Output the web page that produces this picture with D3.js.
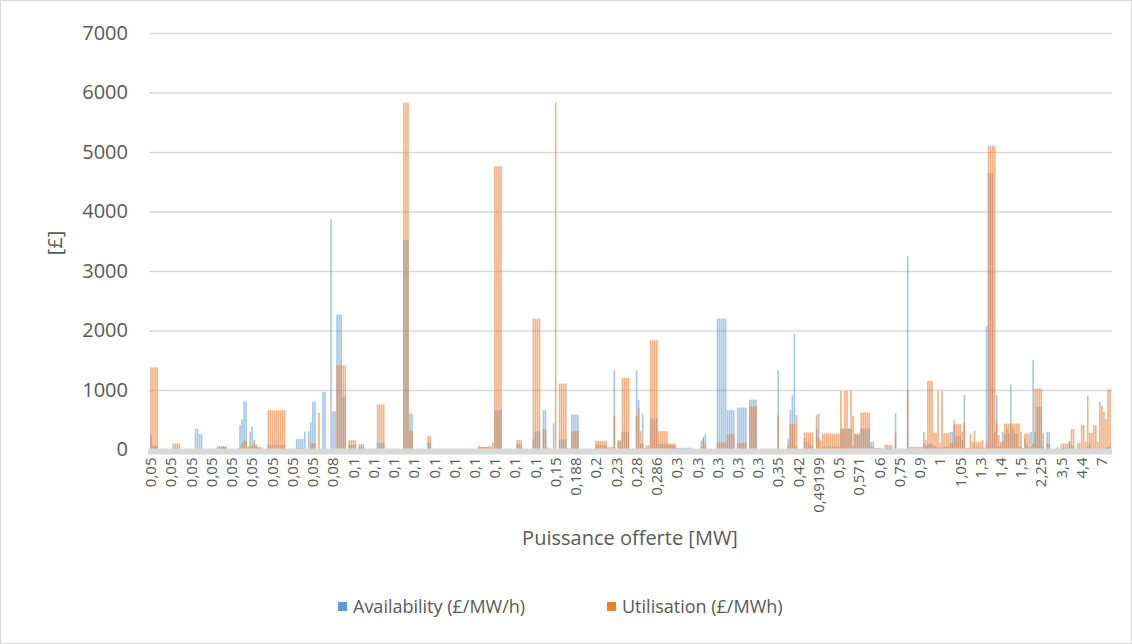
<!DOCTYPE html>
<html>
<head>
<meta charset="utf-8">
<script src="https://cdn.jsdelivr.net/npm/d3@7"></script>
<style>
  html, body { margin: 0; padding: 0; background: #ffffff; }
  svg { display: block; font-family: "Open Sans", "Noto Sans", sans-serif; }
</style>
</head>
<body>
<svg id="chart" width="1132" height="644"></svg>
<script>
// ---- DATA ----
// one label every 10th category (Puissance offerte [MW])
const tickLabels = [
  "0,05","0,05","0,05","0,05","0,05","0,05","0,05","0,05","0,05","0,08",
  "0,1","0,1","0,1","0,1","0,1","0,1","0,1","0,1","0,1","0,1",
  "0,15","0,188","0,2","0,23","0,28","0,286","0,3","0,3","0,3","0,3","0,3",
  "0,35","0,42","0,49199","0,5","0,571","0,6","0,75","0,9","1","1,05",
  "1,3","1,4","1,5","2,25","3,5","4,4","7"
];
const yTicks = [0, 1000, 2000, 3000, 4000, 5000, 6000, 7000];
const seriesNames = ["Availability (£/MW/h)", "Utilisation (£/MWh)"];

// Availability (£/MW/h), one row per label group of 10 categories
const availability = [
  240,60,60,60,0,0,0,0,0,0,
  0,30,30,30,30,0,0,0,0,0,
  0,0,350,350,260,260,0,0,0,0,
  0,0,0,40,40,40,40,40,0,0,
  0,0,0,0,410,510,810,810,50,300,
  380,100,80,30,20,10,0,0,80,80,
  80,80,80,80,80,80,80,0,0,0,
  0,0,175,175,175,175,300,0,308,460,
  800,800,0,0,0,970,970,0,0,3870,
  644,644,2270,2270,2270,885,885,0,80,80,
  80,80,0,45,45,45,0,0,0,0,
  0,0,112,112,112,112,0,0,0,0,
  0,0,0,0,0,3520,3520,3520,605,605,
  0,0,0,0,0,0,0,112,112,0,
  0,0,0,0,0,0,0,0,0,0,
  0,0,0,0,0,0,0,0,0,0,
  0,0,70,40,40,40,40,60,60,0,
  661,661,661,661,0,0,0,0,0,0,
  0,90,90,90,0,0,0,0,0,174,
  308,308,308,0,661,661,0,0,0,437,
  0,0,168,168,168,168,0,0,588,588,
  588,588,0,0,0,0,0,0,0,0,
  73,73,73,73,73,73,0,0,0,1333,
  0,130,130,297,297,297,297,0,0,0,
  1333,830,100,605,20,20,20,521,521,521,
  521,90,90,90,90,90,73,73,73,73,
  30,30,30,30,30,30,30,30,0,0,
  0,0,150,213,270,0,0,0,0,0,
  2200,2200,2200,2200,2200,661,661,661,661,0,
  706,706,706,706,706,0,840,840,840,840,
  0,0,0,0,0,0,0,0,0,0,
  1333,0,0,0,0,185,660,913,1940,50,
  0,0,0,185,140,120,80,60,0,350,
  605,30,50,50,50,80,50,50,50,50,
  50,350,350,350,350,350,350,50,250,250,
  250,353,353,353,353,353,130,130,20,20,
  20,20,0,30,30,30,30,0,605,0,
  0,0,0,0,3250,10,10,10,10,10,
  10,10,100,60,100,100,100,60,60,30,
  30,30,50,50,50,297,297,493,224,224,
  224,157,913,20,20,30,30,100,30,30,
  30,30,0,2072,4650,4650,4650,300,913,50,
  80,297,270,350,270,1092,350,270,270,50,
  50,20,185,80,30,297,1500,300,717,717,
  717,50,0,297,297,0,0,0,30,0,
  30,30,30,30,140,60,60,0,0,0,
  0,0,0,50,100,0,0,0,0,0,
  0,0,30,40,60
];

// Utilisation (£/MWh)
const utilisation = [
  1380,1380,1380,1380,0,0,0,0,0,0,
  0,100,100,100,100,0,0,0,0,0,
  0,0,0,0,0,0,0,0,0,0,
  0,0,0,55,55,55,55,55,0,0,
  0,0,0,0,40,110,150,150,20,60,
  60,160,70,45,40,30,0,0,660,660,
  660,660,660,660,660,660,660,0,0,0,
  0,0,20,20,20,20,0,0,0,106,
  106,106,0,616,0,0,0,0,0,0,
  0,0,1417,1417,1417,1417,1417,0,157,157,
  157,157,0,90,90,90,0,0,0,0,
  0,0,756,756,756,756,0,0,0,0,
  0,0,0,0,0,5830,5830,5830,308,308,
  0,0,0,0,0,0,0,224,224,0,
  0,0,0,0,0,0,0,0,0,0,
  0,0,0,0,0,0,0,0,0,0,
  0,0,45,45,45,45,45,30,30,120,
  4760,4760,4760,4760,0,0,0,0,0,0,
  0,157,157,157,0,0,0,0,0,2200,
  2200,2200,2200,0,340,340,30,30,0,0,
  5830,0,1109,1109,1109,1109,20,20,308,308,
  308,308,0,0,0,0,0,0,0,0,
  146,146,146,146,146,146,40,40,40,566,
  0,157,157,1204,1204,1204,1204,0,20,0,
  566,700,308,100,20,73,73,1837,1837,1837,
  1837,308,308,308,308,308,100,100,100,100,
  10,10,10,10,10,10,10,10,0,0,
  0,0,50,185,100,0,0,0,0,0,
  118,118,118,118,118,258,258,258,258,0,
  112,112,112,112,112,0,728,728,728,728,
  0,0,0,0,0,0,0,0,0,0,
  577,0,0,0,0,80,425,425,437,577,
  0,0,0,286,286,286,286,286,0,577,
  200,157,269,269,269,269,269,269,269,269,
  269,986,353,986,986,353,986,566,269,269,
  269,622,622,622,622,622,50,50,20,20,
  20,20,0,80,80,80,80,0,280,0,
  0,0,0,0,1000,45,45,45,45,45,
  45,45,297,157,1154,1154,1154,286,286,980,
  112,980,275,275,275,112,112,425,425,425,
  425,297,448,20,20,269,130,314,130,130,
  130,157,20,100,5100,5100,5100,5100,437,241,
  130,130,437,437,437,437,437,437,437,437,
  297,20,269,269,258,50,100,1025,1025,1025,
  1025,280,0,100,100,0,0,0,40,0,
  100,100,100,100,130,342,342,0,112,112,
  409,409,130,900,280,280,409,409,130,800,
  728,633,510,1008,1008
];

// ---- CHART ----
const W = 1132, H = 644;
const plot = { left: 150, right: 1111, top: 33, bottom: 449.5 };
const svg = d3.select("#chart");
const textColor = "#595959";
const gridColor = "#d9d9d9";
const colors = ["#5B9BD5", "#ED7D31"];

// outer border
svg.append("rect").attr("x", 0.5).attr("y", 0.5).attr("width", W - 1).attr("height", H - 1)
  .attr("fill", "#fff").attr("stroke", gridColor).attr("stroke-width", 1);

const N = availability.length;
const x = d3.scaleBand().domain(d3.range(N)).range([plot.left, plot.right]).paddingInner(0.2).paddingOuter(0.1);
const y = d3.scaleLinear().domain([0, 7000]).range([plot.bottom, plot.top]);

// y labels
const yAxis = d3.axisLeft(y).tickValues(yTicks).tickSize(0).tickPadding(0).tickFormat(d => d);
const gy = svg.append("g").attr("transform", `translate(${plot.left - 2},0)`).call(yAxis);
gy.select(".domain").remove();
gy.selectAll("text").attr("x", -20).attr("fill", textColor).style("font-size", "20px")
  .style("font-family", '"Open Sans", sans-serif');

// gridlines
const gg = svg.append("g").attr("transform", `translate(${plot.right + 1},0)`)
  .call(d3.axisRight(y).tickValues(yTicks.slice(1)).tickSize(-(plot.right - plot.left + 2)).tickFormat(""));
gg.select(".domain").remove();
gg.selectAll("line").attr("stroke", gridColor).attr("stroke-width", 1.3);

// bars (the two series overlap within each category, semi transparent)
const series = [availability, utilisation];
const opac = [0.55, 0.6];
series.forEach((vals, s) => {
  svg.append("g").selectAll("rect").data(vals).join("rect")
    .attr("x", (d, i) => x(i))
    .attr("width", x.bandwidth())
    .attr("y", d => y(d))
    .attr("height", d => y(0) - y(d))
    .attr("fill", colors[s])
    .attr("fill-opacity", opac[s]);
});

// category axis (thick light gray line)
svg.append("line").attr("x1", plot.left - 2).attr("x2", plot.right + 1)
  .attr("y1", y(0) + 2).attr("y2", y(0) + 2)
  .attr("stroke", gridColor).attr("stroke-width", 6);

// x tick labels, every 10th category
const xAxis = d3.axisBottom(x)
  .tickValues(d3.range(0, N, 10))
  .tickSize(0)
  .tickFormat(i => tickLabels[i / 10]);
const gx = svg.append("g").attr("transform", `translate(0,${y(0) + 6})`).call(xAxis);
gx.select(".domain").remove();
gx.selectAll("text")
  .attr("transform", "rotate(-90)")
  .attr("x", -2).attr("y", 0).attr("dy", "0.35em")
  .attr("text-anchor", "end")
  .attr("fill", textColor)
  .style("font-size", "15px")
  .style("font-family", '"Open Sans", sans-serif');

// axis titles
svg.append("text").attr("transform", "translate(62,243) rotate(-90)")
  .attr("text-anchor", "middle").attr("fill", textColor)
  .style("font-size", "20px").text("[£]");
svg.append("text").attr("x", 630).attr("y", 545)
  .attr("text-anchor", "middle").attr("fill", textColor)
  .style("font-size", "20px").text("Puissance offerte [MW]");

// legend
const legendItems = [
  { name: seriesNames[0], color: colors[0], x: 338 },
  { name: seriesNames[1], color: colors[1], x: 607 }
];
const lg = svg.append("g");
legendItems.forEach(it => {
  lg.append("rect").attr("x", it.x).attr("y", 602).attr("width", 9).attr("height", 9).attr("fill", it.color);
  lg.append("text").attr("x", it.x + 15).attr("y", 612.5).attr("fill", textColor)
    .style("font-size", "18px").text(it.name);
});
</script>
</body>
</html>
